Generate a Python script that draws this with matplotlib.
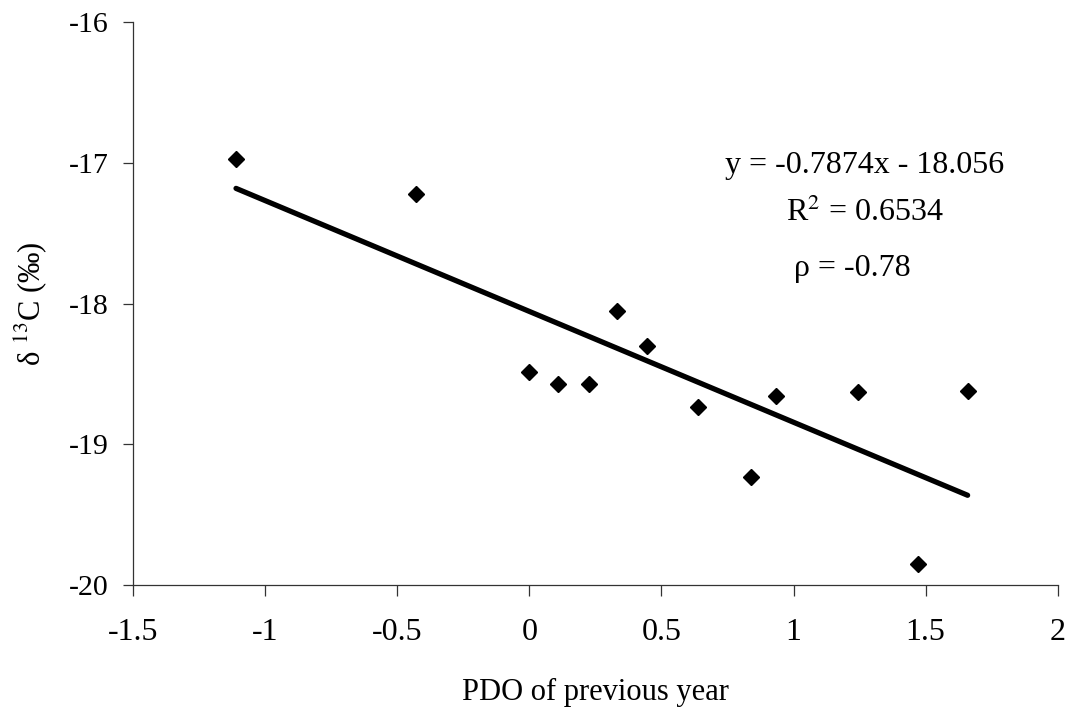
import numpy as np
import matplotlib
matplotlib.use('Agg')
import matplotlib.pyplot as plt

plt.rcParams['font.family'] = ['Liberation Serif', 'DejaVu Serif']
plt.rcParams['mathtext.fontset'] = 'stix'

# PDO of previous year vs delta 13C
pdo = [-1.11, -0.428, 0.0, 0.11, 0.227, 0.331, 0.446, 0.639, 0.838, 0.932, 1.246, 1.471, 1.659]
d13c = [-16.97, -17.22, -18.49, -18.575, -18.575, -18.05, -18.30, -18.735, -19.23, -18.66, -18.63, -19.85, -18.62]

slope = -0.7874
intercept = -18.056

xticks = [-1.5, -1, -0.5, 0, 0.5, 1, 1.5, 2]
yticks = [-20, -19, -18, -17, -16]

fig = plt.figure(figsize=(10.76, 7.10), dpi=100)
ax = fig.add_axes([0.1236, 0.176, 0.8594, 0.793])

ax.plot(pdo, d13c, linestyle='none', marker='D', markersize=8.5, color='black')

xfit = np.array([min(pdo), max(pdo)])
ax.plot(xfit, slope * xfit + intercept, color='black', lw=3.8, solid_capstyle='round')

ax.set_xlim(-1.5, 2)
ax.set_ylim(-20, -16)
ax.set_xticks(xticks)
ax.set_xticklabels(['-1.5', '-1', '-0.5', '0', '0.5', '1', '1.5', '2'])
ax.set_yticks(yticks)
ax.set_yticklabels([str(v) for v in yticks])

for s in ['top', 'right']:
    ax.spines[s].set_visible(False)
for s in ['left', 'bottom']:
    ax.spines[s].set_linewidth(0.9)
    ax.spines[s].set_color('#333333')
ax.tick_params(axis='both', direction='out', width=0.9, color='#333333')
ax.tick_params(axis='y', length=7.5, labelsize=21.5, pad=10)
ax.tick_params(axis='x', length=8, labelsize=23, pad=16)

ax.set_xlabel('PDO of previous year', fontsize=22, labelpad=22)
ax.set_ylabel(r'δ $^{13}$C (‰)', fontsize=22, labelpad=14)

ax.text(1.27, -17.016, 'y = -0.7874x - 18.056', ha='center', va='center', fontsize=23)
ax.text(1.27, -17.357, 'R$^{2}$ = 0.6534', ha='center', va='center', fontsize=23)
ax.text(1.224, -17.748, 'ρ = -0.78', ha='center', va='center', fontsize=23)

fig.savefig('out.png', dpi=100)
